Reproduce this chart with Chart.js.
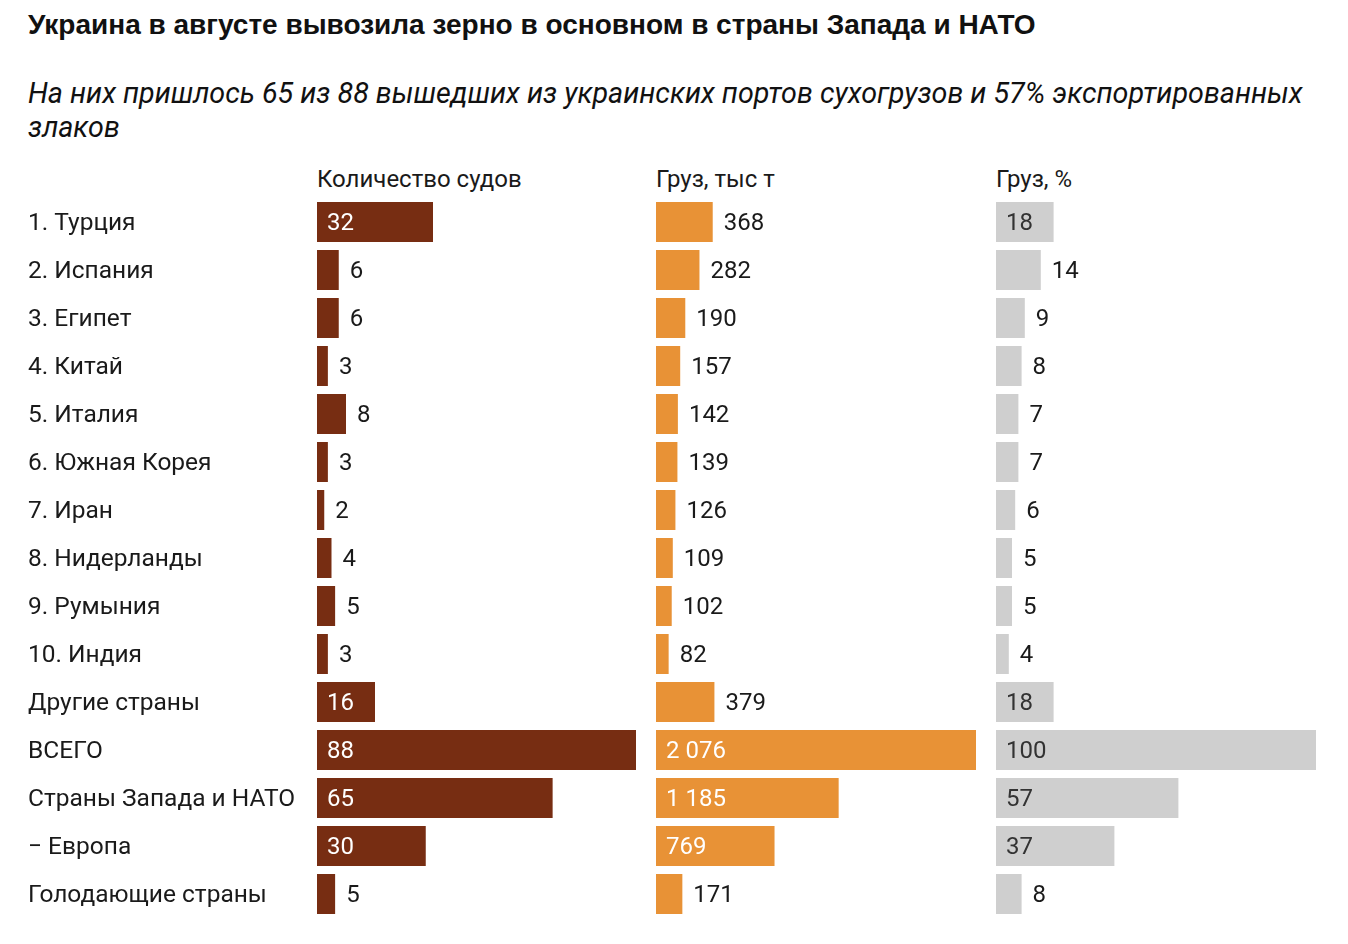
<!DOCTYPE html>
<html lang="ru">
<head>
<meta charset="utf-8">
<script src="https://cdn.jsdelivr.net/npm/chart.js@4/dist/chart.umd.min.js"></script>
<style>
  html, body { margin: 0; padding: 0; background: #fff; }
  #wrap { position: relative; width: 1348px; height: 944px; overflow: hidden; font-family: Roboto, "Noto Sans", sans-serif; color: #1a1a1a; }
  .title { position: absolute; left: 28px; top: 7px; font-family: "Liberation Sans", Arial, sans-serif; font-weight: bold; font-size: 28px; line-height: 36px; color: #111; white-space: nowrap; }
  .sub { position: absolute; left: 28px; top: 76px; font-family: Roboto, sans-serif; font-style: italic; font-size: 28.7px; line-height: 34px; color: #111; white-space: nowrap; }
  .hdr { position: absolute; top: 164px; font-size: 24px; line-height: 30px; color: #1a1a1a; white-space: nowrap; }
  canvas { position: absolute; top: 198px; }
</style>
</head>
<body>
<div id="wrap">
  <div class="title">Украина в августе вывозила зерно в основном в страны Запада и НАТО</div>
  <div class="sub">На них пришлось 65 из 88 вышедших из украинских портов сухогрузов и 57% экспортированных<br>злаков</div>
  <div class="hdr" style="left:317px">Количество судов</div>
  <div class="hdr" style="left:656px">Груз, тыс т</div>
  <div class="hdr" style="left:996px">Груз, %</div>
  <canvas id="c1" width="646" height="720" style="left:0px"></canvas>
  <canvas id="c2" width="340" height="720" style="left:646px"></canvas>
  <canvas id="c3" width="362" height="720" style="left:986px"></canvas>
</div>
<script>
const categories = ["1. Турция", "2. Испания", "3. Египет", "4. Китай", "5. Италия", "6. Южная Корея", "7. Иран", "8. Нидерланды", "9. Румыния", "10. Индия", "Другие страны", "ВСЕГО", "Страны Запада и НАТО", "− Европа", "Голодающие страны"];
const ships = [32, 6, 6, 3, 8, 3, 2, 4, 5, 3, 16, 88, 65, 30, 5];
const cargoKt = [368, 282, 190, 157, 142, 139, 126, 109, 102, 82, 379, 2076, 1185, 769, 171];
const cargoPct = [18, 14, 9, 8, 7, 7, 6, 5, 5, 4, 18, 100, 57, 37, 8];

const FONT = "Roboto, 'Noto Sans', sans-serif";
const fmt = n => String(n).replace(/\B(?=(\d{3})+(?!\d))/g, ' ');

const valueLabels = {
  id: 'valueLabels',
  afterDatasetsDraw(chart, args, opts) {
    const ctx = chart.ctx;
    const meta = chart.getDatasetMeta(0);
    const data = chart.data.datasets[0].data;
    ctx.save();
    ctx.font = "24px " + FONT;
    ctx.textBaseline = 'middle';
    ctx.textAlign = 'left';
    meta.data.forEach((bar, i) => {
      const txt = fmt(data[i]);
      const w = ctx.measureText(txt).width;
      const bw = bar.x - bar.base;
      if (w + 24 <= bw) {
        ctx.fillStyle = opts.inside;
        ctx.fillText(txt, bar.base + 10, bar.y + 2);
      } else {
        ctx.fillStyle = opts.outside;
        ctx.fillText(txt, bar.x + 11, bar.y + 2);
      }
    });
    ctx.restore();
  }
};

function makeChart(id, values, color, insideColor, showLabels, padding) {
  return new Chart(document.getElementById(id), {
    type: 'bar',
    data: {
      labels: categories,
      datasets: [{ data: values, backgroundColor: color, borderWidth: 0, barPercentage: 1, categoryPercentage: 40 / 48 }]
    },
    options: {
      indexAxis: 'y',
      responsive: false,
      animation: false,
      layout: { padding: padding },
      plugins: {
        legend: { display: false },
        tooltip: { enabled: false },
        valueLabels: { inside: insideColor, outside: '#1a1a1a' }
      },
      scales: {
        x: { display: false, min: 0, max: Math.max(...values) },
        y: {
          display: showLabels,
          grid: { display: false },
          border: { display: false },
          ticks: { crossAlign: 'far', autoSkip: false, color: '#1a1a1a', font: { family: FONT, size: 24.5 }, padding: 0, labelOffset: 2 },
          afterFit: showLabels ? (ax) => { ax.width = 289; ax.paddingTop = 0; ax.paddingBottom = 0; } : undefined
        }
      }
    },
    plugins: [valueLabels]
  });
}

makeChart('c1', ships, '#772d12', '#ffffff', true, { left: 28, right: 10, top: 0, bottom: 0 });
makeChart('c2', cargoKt, '#e89236', '#ffffff', false, { left: 10, right: 10, top: 0, bottom: 0 });
makeChart('c3', cargoPct, '#cfcfcf', '#333333', false, { left: 10, right: 32, top: 0, bottom: 0 });
</script>
</body>
</html>
